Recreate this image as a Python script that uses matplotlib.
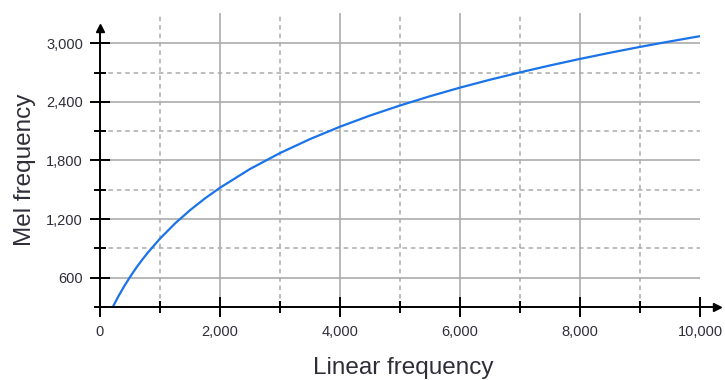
import matplotlib.pyplot as plt

plt.rcParams["font.family"] = ["Liberation Sans", "DejaVu Sans"]

# linear frequency (Hz) -> mel frequency
linear_hz = [210, 300, 400, 500, 600, 700, 800, 1000, 1250, 1500, 1750, 2000,
             2500, 3000, 3500, 4000, 4500, 5000, 5500, 6000, 6500, 7000,
             7500, 8000, 8500, 9000, 9500, 10000]
mel = [296, 402, 509, 607, 698, 781, 859, 1000, 1155, 1291, 1412, 1521,
       1713, 1876, 2019, 2146, 2260, 2363, 2458, 2546, 2627, 2702,
       2773, 2840, 2903, 2963, 3019, 3073]

x_major = [0, 2000, 4000, 6000, 8000, 10000]
x_minor = [1000, 3000, 5000, 7000, 9000]
y_major = [600, 1200, 1800, 2400, 3000]
y_minor = [300, 900, 1500, 2100, 2700]

X_MAX, Y_MIN, Y_MAX = 10300, 300, 3310
X_ARROW, Y_ARROW = 10280, 3160

TEXT = "#2e2e38"
GRID = "#ababab"

fig = plt.figure(figsize=(7.25, 3.8), dpi=100)
ax = fig.add_axes([100 / 725, 73 / 380, 618 / 725, 294 / 380])
ax.set_xlim(0, X_MAX)
ax.set_ylim(Y_MIN, Y_MAX)

# grid: solid at major ticks, dashed at minor ticks
ax.hlines(y_major, 0, 10000, color=GRID, lw=1.2, zorder=1)
ax.hlines(y_minor[1:], 0, 10000, color=GRID, lw=1.1, ls=(0, (3, 2.5)), zorder=1)
ax.vlines(x_major[1:-1], Y_MIN, Y_MAX, color=GRID, lw=1.2, zorder=1)
ax.vlines(x_minor, Y_MIN, Y_MAX, color=GRID, lw=1.1, ls=(0, (3, 2.5)), zorder=1)

ax.plot(linear_hz, mel, color="#1a73e8", lw=1.6, zorder=3, solid_capstyle="butt")

# axes drawn as arrows
for side in ("top", "right"):
    ax.spines[side].set_visible(False)
ax.spines["left"].set_bounds(Y_MIN, Y_ARROW)
ax.spines["bottom"].set_bounds(0, X_ARROW)
for side in ("left", "bottom"):
    ax.spines[side].set_linewidth(1.4)
    ax.spines[side].set_color("black")
    ax.spines[side].set_zorder(4)
ax.plot(X_ARROW, Y_MIN, marker=">", ms=6, color="black", clip_on=False, zorder=5)
ax.plot(0, Y_ARROW, marker="^", ms=6, color="black", clip_on=False, zorder=5)

ax.set_xticks(x_major)
ax.set_xticks(x_minor, minor=True)
ax.set_yticks(y_major)
ax.set_yticks(y_minor, minor=True)
ax.set_xticklabels([f"{v:,}" for v in x_major])
ax.set_yticklabels([f"{v:,}" for v in y_major])
ax.tick_params(which="major", direction="inout", length=14.5, width=1.4,
               color="black", labelsize=10.5, labelcolor=TEXT)
ax.tick_params(which="minor", direction="inout", length=8.5, width=1.4, color="black")
ax.tick_params(axis="x", which="major", pad=6)
ax.tick_params(axis="y", which="major", pad=5)

ax.set_xlabel("Linear frequency", fontsize=17.5, color=TEXT, labelpad=13)
ax.set_ylabel("Mel frequency", fontsize=17.5, color=TEXT, labelpad=7)
ax.xaxis.label.set_x(0.49)
ax.yaxis.label.set_y(0.466)

fig.savefig("out.png", dpi=100)
